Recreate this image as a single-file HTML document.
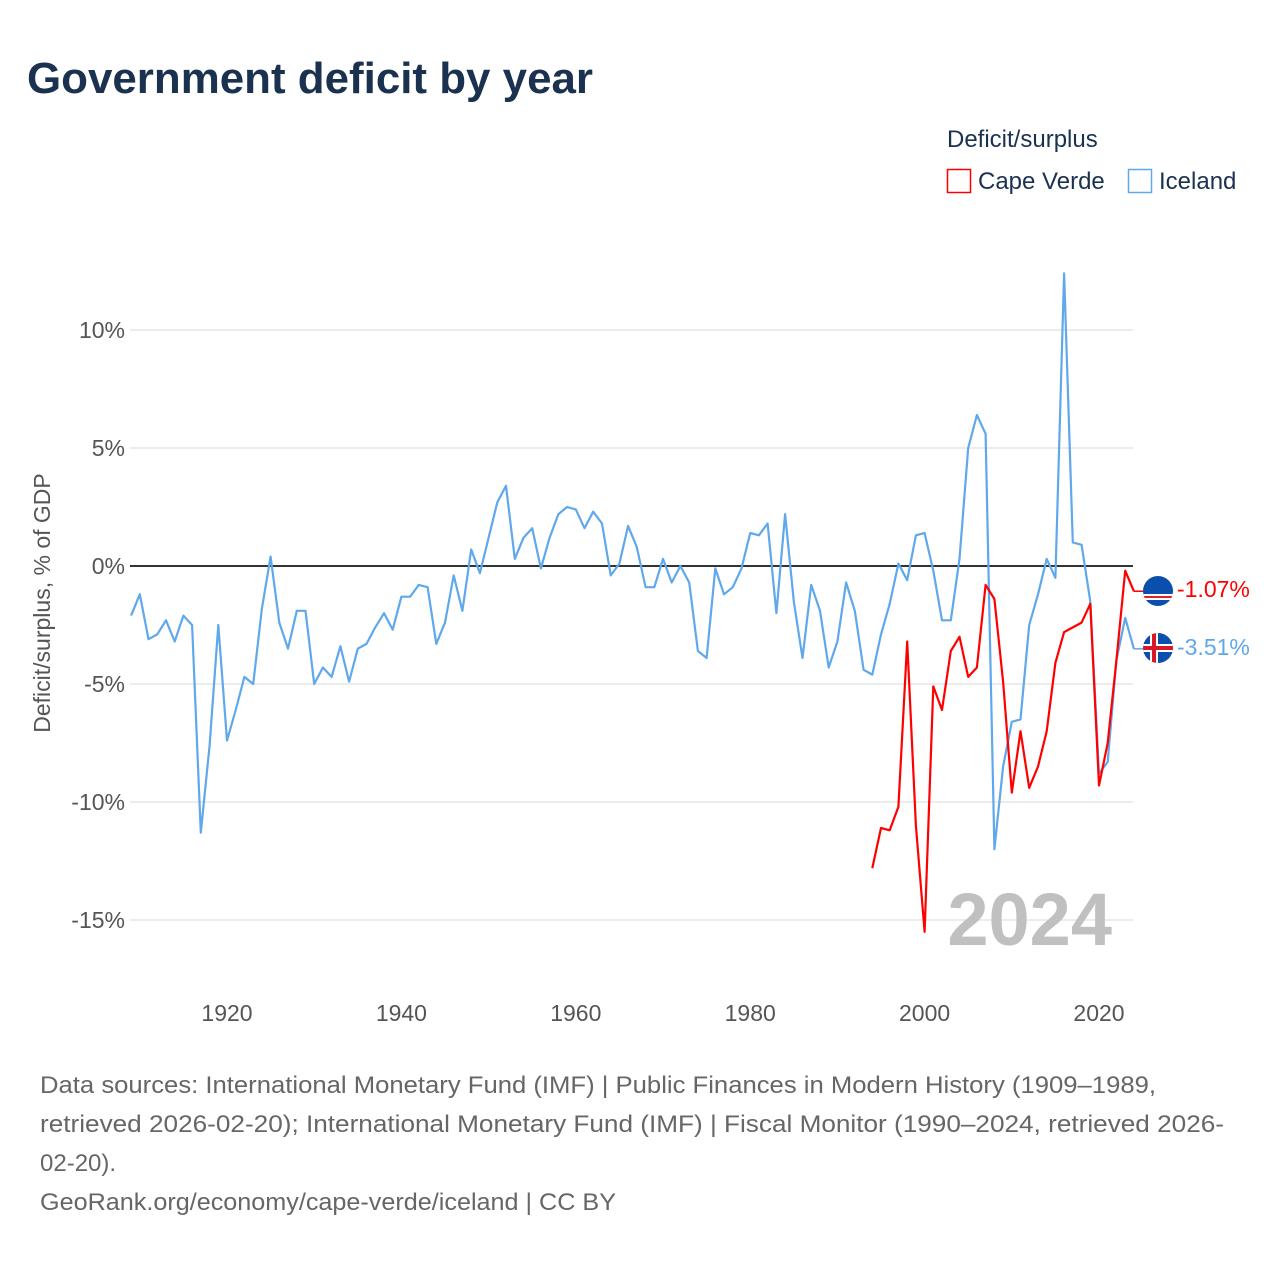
<!DOCTYPE html>
<html><head><meta charset="utf-8"><style>
html,body{margin:0;padding:0;background:#fff;width:1280px;height:1280px;overflow:hidden}
svg{display:block;font-family:"Liberation Sans",sans-serif}
</style></head><body>
<svg id="chart" width="1280" height="1280" viewBox="0 0 1280 1280" xmlns="http://www.w3.org/2000/svg">
<text x="27" y="93" font-size="44" font-weight="bold" fill="#1b3150" textLength="566" lengthAdjust="spacingAndGlyphs">Government deficit by year</text>
<g>
<text x="947" y="147" font-size="24" fill="#1b3150">Deficit/surplus</text>
<rect x="947.5" y="169.5" width="23" height="23" fill="none" stroke="#ff0000" stroke-width="1.5"/>
<text x="978" y="189" font-size="24" fill="#1b3150">Cape Verde</text>
<rect x="1128.5" y="169.5" width="23" height="23" fill="none" stroke="#5fa8ec" stroke-width="1.5"/>
<text x="1159" y="189" font-size="24" fill="#1b3150">Iceland</text>
</g>
<g id="grid"></g>
<text x="1112" y="945" font-size="74" font-weight="bold" fill="#c0c0c0" text-anchor="end">2024</text>
<g id="lines"></g>
<g id="axes"></g>
<text transform="translate(50,603) rotate(-90)" font-size="23" fill="#555" text-anchor="middle">Deficit/surplus, % of GDP</text>
<g>
<clipPath id="c1"><circle cx="1158" cy="591" r="15"/></clipPath>
<g clip-path="url(#c1)"><rect x="1140" y="573" width="36" height="36" fill="#0b4fae"/><rect x="1140" y="594" width="36" height="6" fill="#fff"/><rect x="1140" y="596" width="36" height="2" fill="#e0202a"/></g>
</g>
<g>
<clipPath id="c2"><circle cx="1158" cy="648" r="15"/></clipPath>
<g clip-path="url(#c2)"><rect x="1140" y="630" width="36" height="36" fill="#0b4fae"/><rect x="1140" y="644" width="36" height="8" fill="#fff"/><rect x="1150" y="630" width="8" height="36" fill="#fff"/><rect x="1140" y="646" width="36" height="4" fill="#d7182a"/><rect x="1152" y="630" width="4" height="36" fill="#d7182a"/></g>
</g>
<text x="1177" y="597" font-size="23" fill="#ff0000">-1.07%</text>
<text x="1177" y="655" font-size="23" fill="#5fa8ec">-3.51%</text>
<g font-size="24" fill="#666">
<text x="40" y="1093" textLength="1116" lengthAdjust="spacingAndGlyphs">Data sources: International Monetary Fund (IMF) | Public Finances in Modern History (1909–1989,</text>
<text x="40" y="1132" textLength="1184" lengthAdjust="spacingAndGlyphs">retrieved 2026-02-20); International Monetary Fund (IMF) | Fiscal Monitor (1990–2024, retrieved 2026-</text>
<text x="40" y="1171">02-20).</text>
<text x="40" y="1210" textLength="576" lengthAdjust="spacingAndGlyphs">GeoRank.org/economy/cape-verde/iceland | CC BY</text>
</g>
</svg>
<script>
const icelandStart = 1909;
const icelandValues = [-2.1,-1.2,-3.1,-2.9,-2.3,-3.2,-2.1,-2.5,-11.3,-7.6,-2.5,-7.4,-6.1,-4.7,-5.0,-1.8,0.4,-2.4,-3.5,-1.9,-1.9,-5.0,-4.3,-4.7,-3.4,-4.9,-3.5,-3.3,-2.6,-2.0,-2.7,-1.3,-1.3,-0.8,-0.9,-3.3,-2.4,-0.4,-1.9,0.7,-0.3,1.2,2.7,3.4,0.3,1.2,1.6,-0.1,1.2,2.2,2.5,2.4,1.6,2.3,1.8,-0.4,0.1,1.7,0.8,-0.9,-0.9,0.3,-0.7,0.0,-0.7,-3.6,-3.9,-0.1,-1.2,-0.9,-0.1,1.4,1.3,1.8,-2.0,2.2,-1.5,-3.9,-0.8,-1.9,-4.3,-3.2,-0.7,-1.9,-4.4,-4.6,-2.9,-1.6,0.1,-0.6,1.3,1.4,-0.2,-2.3,-2.3,0.3,5.0,6.4,5.6,-12.0,-8.5,-6.6,-6.5,-2.5,-1.2,0.3,-0.5,12.4,1.0,0.9,-1.5,-8.8,-8.3,-4.0,-2.2,-3.51];
const capeVerdeStart = 1994;
const capeVerdeValues = [-12.8,-11.1,-11.2,-10.2,-3.2,-11.0,-15.5,-5.1,-6.1,-3.6,-3.0,-4.7,-4.3,-0.8,-1.4,-4.9,-9.6,-7.0,-9.4,-8.5,-7.0,-4.1,-2.8,-2.6,-2.4,-1.6,-9.3,-7.5,-4.0,-0.2,-1.07];
const yTicks = [10,5,0,-5,-10,-15];
const yTickLabels = ["10%","5%","0%","-5%","-10%","-15%"];
const xTicks = [1920,1940,1960,1980,2000,2020];

const NS = "http://www.w3.org/2000/svg";
const xScale = yr => 227 + (yr - 1920) * 8.72;
const yScale = v => 566 - v * 23.6;
const PL = 130, PR = 1133;

const grid = document.getElementById('grid');
const axes = document.getElementById('axes');
const lines = document.getElementById('lines');

yTicks.forEach((t, i) => {
  const y = yScale(t);
  if (t !== 0) {
    const l = document.createElementNS(NS, 'line');
    
    
    l.setAttribute('x1', PL); l.setAttribute('x2', PR);
    l.setAttribute('y1', y); l.setAttribute('y2', y);
    l.setAttribute('stroke', '#e6e6e6'); l.setAttribute('stroke-width', '1.5');
    grid.appendChild(l);
  }
  const tx = document.createElementNS(NS, 'text');
  
  
  tx.setAttribute('x', 125); tx.setAttribute('y', y + 8);
  tx.setAttribute('font-size', '23'); tx.setAttribute('fill', '#555');
  tx.setAttribute('text-anchor', 'end');
  tx.textContent = yTickLabels[i];
  axes.appendChild(tx);
});
xTicks.forEach(t => {
  const tx = document.createElementNS(NS, 'text');
  
  
  tx.setAttribute('x', xScale(t)); tx.setAttribute('y', 1021);
  tx.setAttribute('font-size', '23'); tx.setAttribute('fill', '#555');
  tx.setAttribute('text-anchor', 'middle');
  tx.textContent = t;
  axes.appendChild(tx);
});
const zero = document.createElementNS(NS, 'line');


zero.setAttribute('x1', PL); zero.setAttribute('x2', PR);
zero.setAttribute('y1', yScale(0)); zero.setAttribute('y2', yScale(0));
zero.setAttribute('stroke', '#333'); zero.setAttribute('stroke-width', '2');
lines.appendChild(zero);

function series(start, vals, color, name) {
  const pts = vals.map((v, i) => xScale(start + i).toFixed(1) + ',' + yScale(v).toFixed(1));
  const p = document.createElementNS(NS, 'polyline');
  
  
  p.setAttribute('points', pts.join(' '));
  p.setAttribute('fill', 'none'); p.setAttribute('stroke', color);
  p.setAttribute('stroke-width', '2.2'); p.setAttribute('stroke-linejoin', 'round');
  lines.appendChild(p);
  const last = vals[vals.length - 1];
  const c = document.createElementNS(NS, 'line');
  
  
  c.setAttribute('x1', xScale(start + vals.length - 1)); c.setAttribute('x2', 1143);
  c.setAttribute('y1', yScale(last)); c.setAttribute('y2', yScale(last));
  c.setAttribute('stroke', color); c.setAttribute('stroke-width', '1.5');
  lines.appendChild(c);
}
series(icelandStart, icelandValues, '#5fa8ec', 'iceland-line');
series(capeVerdeStart, capeVerdeValues, '#ff0000', 'cape-verde-line');
</script>
</body></html>
